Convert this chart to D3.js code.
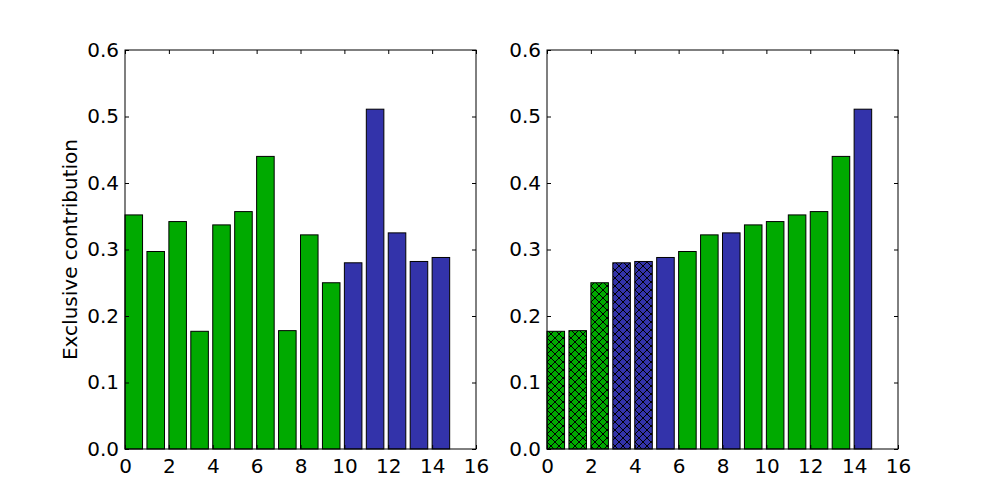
<!DOCTYPE html>
<meta charset="utf-8">
<style>
body { margin: 0; background: #fff; }
text { font-family: "DejaVu Sans", sans-serif; }
</style>
<body>
<script src="https://d3js.org/d3.v7.min.js"></script>
<script>
var values = [0.352, 0.297, 0.342, 0.177, 0.337, 0.357, 0.440, 0.178, 0.322, 0.250, 0.280, 0.511, 0.325, 0.282, 0.288];
var groups = ["g","g","g","g","g","g","g","g","g","g","b","b","b","b","b"];
var hatched = [3, 7, 9, 10, 13]; // indices hatched in sorted panel
var colors = {g: "#00aa00", b: "#3333aa"};
var xTicks = [0, 2, 4, 6, 8, 10, 12, 14, 16];
var yTicks = [0, 0.1, 0.2, 0.3, 0.4, 0.5, 0.6];

var svg = d3.select("body").append("svg").attr("width", 1000).attr("height", 500);

var defs = svg.append("defs");
["g", "b"].forEach(function(k) {
  var p = defs.append("pattern").attr("id", "hatch-" + k)
    .attr("patternUnits", "userSpaceOnUse").attr("width", 8).attr("height", 8);
  p.append("rect").attr("width", 8).attr("height", 8).attr("fill", colors[k]);
  p.append("path").attr("d", "M0,0L8,8M8,0L0,8M-1,7L1,9M7,-1L9,1")
    .attr("stroke", "#000").attr("stroke-width", 1);
});

var bars = values.map(function(v, i) { return {v: v, g: groups[i], h: hatched.indexOf(i) >= 0}; });
var left = bars.map(function(d) { return {v: d.v, g: d.g, h: false}; });
var right = bars.slice().sort(function(a, b) { return a.v - b.v; });

function panel(x0, data, ylabel) {
  var w = 351, h = 399, top = 50;
  var g = svg.append("g").attr("transform", "translate(" + x0 + "," + top + ")");
  var x = d3.scaleLinear().domain([0, 16]).range([0, w]);
  var y = d3.scaleLinear().domain([0, 0.6]).range([h, 0]);
  g.selectAll(".bar").data(data).enter().append("rect")
    .attr("x", function(d, i) { return x(i); })
    .attr("width", x(0.8) - x(0))
    .attr("y", function(d) { return y(d.v); })
    .attr("height", function(d) { return h - y(d.v); })
    .attr("fill", function(d) { return d.h ? "url(#hatch-" + d.g + ")" : colors[d.g]; })
    .attr("stroke", "#000").attr("stroke-width", 1);
  g.append("rect").attr("width", w).attr("height", h).attr("fill", "none").attr("stroke", "#000");
  var xa = g.append("g").attr("transform", "translate(0," + h + ")")
    .call(d3.axisBottom(x).tickValues(xTicks).tickSizeInner(-4).tickSizeOuter(0).tickPadding(6));
  var xt = g.append("g").call(d3.axisTop(x).tickValues(xTicks).tickSizeInner(-4).tickSizeOuter(0).tickFormat(""));
  var ya = g.append("g")
    .call(d3.axisLeft(y).tickValues(yTicks).tickSizeInner(-4).tickSizeOuter(0).tickPadding(6).tickFormat(d3.format(".1f")));
  var yr = g.append("g").attr("transform", "translate(" + w + ",0)")
    .call(d3.axisRight(y).tickValues(yTicks).tickSizeInner(-4).tickSizeOuter(0).tickFormat(""));
  [xa, xt, ya, yr].forEach(function(a) {
    a.select(".domain").remove();
    a.selectAll("text").attr("font-size", 20).attr("fill", "#000").style("font-family", "DejaVu Sans, sans-serif");
  });
  xa.selectAll("text").attr("dy", "0.9em");
  if (ylabel) {
    g.append("text").attr("transform", "translate(-48," + (h / 2) + ") rotate(-90)")
      .attr("text-anchor", "middle").attr("font-size", 20).text(ylabel);
  }
}
panel(125, left, "Exclusive contribution");
panel(547, right, null);
</script>
</body>
